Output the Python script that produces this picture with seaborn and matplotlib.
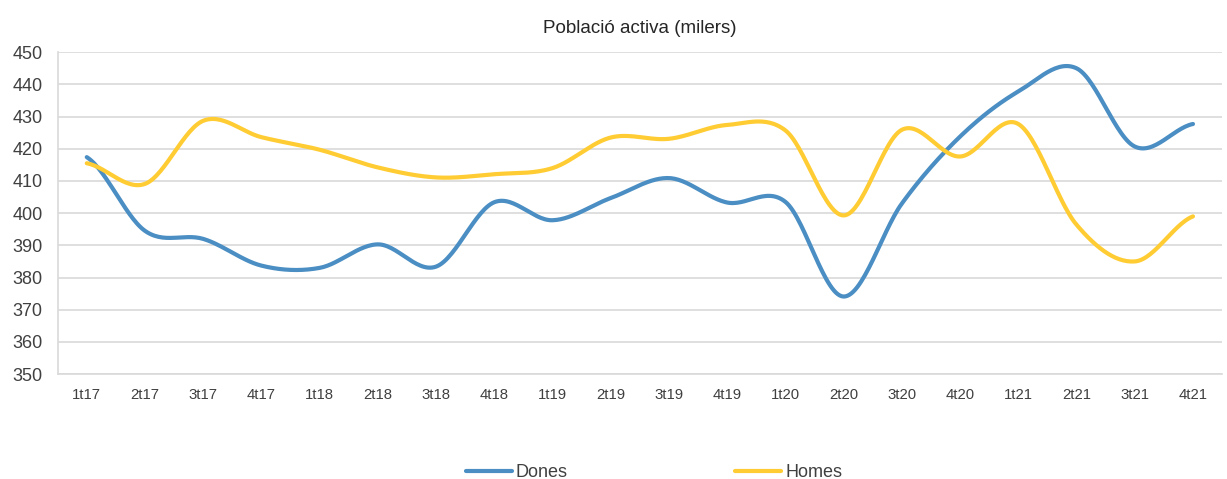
import numpy as np
import pandas as pd
import matplotlib
matplotlib.use("Agg")
import matplotlib.pyplot as plt
import seaborn as sns

# Quarters and values (thousands)
quarters = ["1t17", "2t17", "3t17", "4t17", "1t18", "2t18", "3t18", "4t18",
            "1t19", "2t19", "3t19", "4t19", "1t20", "2t20", "3t20", "4t20",
            "1t21", "2t21", "3t21", "4t21"]
dones = [417.4, 394.5, 392.0, 383.7, 383.0, 390.3, 383.4, 403.4,
         397.8, 404.7, 410.9, 403.3, 403.5, 374.1, 403.0, 423.8,
         437.8, 445.0, 420.7, 427.7]
homes = [415.5, 409.1, 428.7, 423.6, 419.7, 414.2, 411.1, 412.1,
         414.0, 423.5, 423.1, 427.4, 425.7, 399.3, 425.9, 417.6,
         427.7, 396.4, 385.0, 399.0]

blue = "#4A8EC3"
yellow = "#FFCC33"
grey_text = "#404040"
grid_col = "#D9D9D9"


def smooth(y, n=30):
    # Catmull-Rom curve through the points, like Excel's smoothed lines
    y = np.asarray(y, dtype=float)
    p = np.concatenate([[y[0]], y, [y[-1]]])
    xs, ys = [], []
    for i in range(len(y) - 1):
        p0, p1, p2, p3 = p[i], p[i + 1], p[i + 2], p[i + 3]
        t = np.linspace(0, 1, n, endpoint=False)
        seg = 0.5 * (2 * p1 + (-p0 + p2) * t + (2 * p0 - 5 * p1 + 4 * p2 - p3) * t ** 2
                     + (-p0 + 3 * p1 - 3 * p2 + p3) * t ** 3)
        xs.append(i + t)
        ys.append(seg)
    xs.append([len(y) - 1])
    ys.append([y[-1]])
    return np.concatenate(xs), np.concatenate(ys)


sns.set_theme(style="white")
plt.rcParams["font.family"] = ["Liberation Sans", "DejaVu Sans"]

fig, ax = plt.subplots(figsize=(12.27, 4.79), dpi=100)
fig.subplots_adjust(left=0.047, right=0.996, top=0.891, bottom=0.219)

frames = []
for name, vals in [("Dones", dones), ("Homes", homes)]:
    sx, sy = smooth(vals)
    frames.append(pd.DataFrame({"x": sx, "y": sy, "serie": name}))
df = pd.concat(frames, ignore_index=True)

sns.lineplot(data=df, x="x", y="y", hue="serie", palette=[blue, yellow],
             linewidth=3.0, ax=ax, legend=True, sort=False)

ax.set_xlim(-0.5, len(quarters) - 0.5)
ax.set_ylim(350, 450)
ax.set_yticks(range(350, 451, 10))
ax.set_xticks(range(len(quarters)))
ax.set_xticklabels(quarters)
ax.set_xticks(np.arange(-0.5, len(quarters), 1), minor=True)
ax.tick_params(axis="x", which="major", length=0, pad=10, labelsize=10.7, colors=grey_text)
ax.tick_params(axis="x", which="minor", length=5, color=grid_col, width=1.2, direction="out")
ax.tick_params(axis="y", length=0, pad=11, labelsize=13, colors=grey_text)
ax.yaxis.grid(True, color=grid_col, linewidth=1.2)
ax.set_axisbelow(True)
for s in ["top", "right"]:
    ax.spines[s].set_visible(False)
for s in ["left", "bottom"]:
    ax.spines[s].set_color(grid_col)
    ax.spines[s].set_linewidth(1.2)
ax.set_xlabel("")
ax.set_ylabel("")
ax.set_title("Població activa (milers)", fontsize=13.5, color="#262626", pad=14)

handles, labels = ax.get_legend_handles_labels()
ax.get_legend().remove()
fig.legend(handles, labels, loc="center", bbox_to_anchor=(0.533, 0.013), ncol=2,
           frameon=False, fontsize=13, handlelength=2.55, handletextpad=0.22,
           columnspacing=9.3, labelcolor=grey_text)

fig.savefig("out.png", dpi=100)
